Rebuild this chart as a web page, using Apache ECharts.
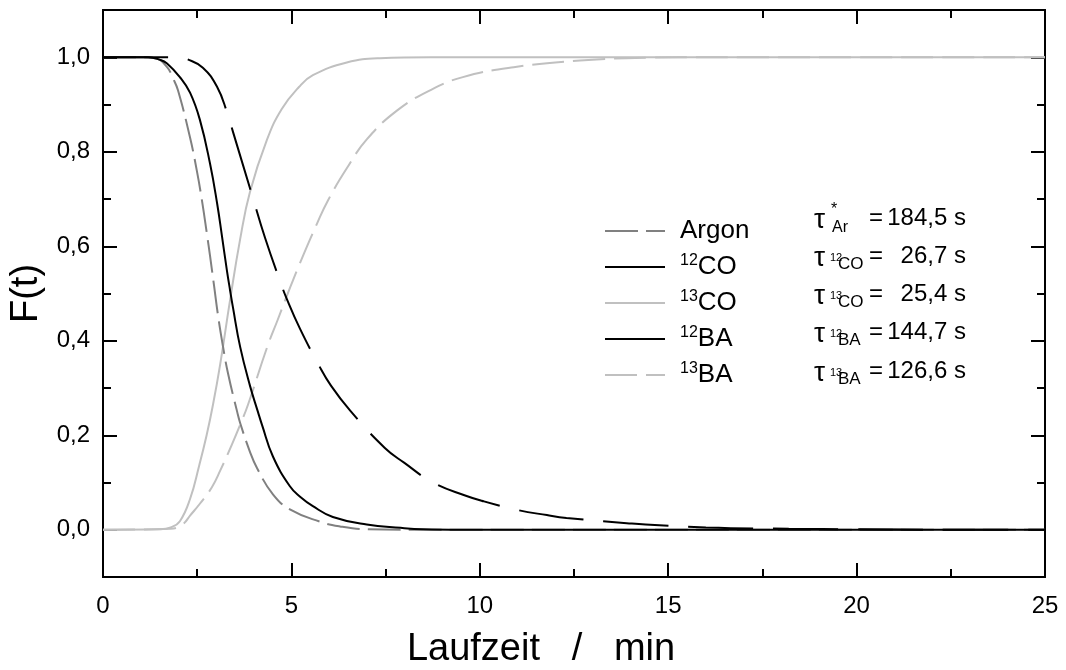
<!DOCTYPE html>
<html>
<head>
<meta charset="utf-8">
<script src="https://cdn.jsdelivr.net/npm/echarts@6/dist/echarts.min.js"></script>
<style>html,body{margin:0;padding:0;background:#fff}#c{width:1066px;height:670px}</style>
</head>
<body>
<div id="c"></div>
<script>
// ---- data ----
const seriesNames = ['Argon', '12CO', '13CO', '12BA', '13BA'];

const tArgon = [0, 1.0, 1.38, 1.7, 1.86, 1.99, 2.31, 2.49, 2.63, 2.76, 2.84, 2.95, 3.05, 3.18, 3.32, 3.56, 3.64, 3.9, 4.09, 4.51, 4.96, 5.76, 6.29, 7.0, 8.0, 25];
const fArgon = [1, 1.0, 0.998, 0.979, 0.955, 0.93, 0.83, 0.76, 0.695, 0.625, 0.58, 0.515, 0.455, 0.39, 0.33, 0.25, 0.226, 0.165, 0.13, 0.075, 0.043, 0.017, 0.007, 0.001, 0, 0];

const t12CO = [0, 1.2, 1.5, 1.7, 2.04, 2.31, 2.57, 2.84, 3.03, 3.16, 3.29, 3.37, 3.45, 3.64, 3.9, 4.11, 4.22, 4.51, 4.96, 5.23, 5.57, 6.1, 7.0, 7.9, 8.5, 9.5, 25];
const f12CO = [1, 1.0, 0.995, 0.987, 0.958, 0.925, 0.868, 0.775, 0.69, 0.62, 0.548, 0.508, 0.47, 0.387, 0.305, 0.25, 0.222, 0.155, 0.092, 0.07, 0.05, 0.027, 0.011, 0.004, 0.001, 0, 0];

const t13CO = [0, 1.5, 1.8, 2.04, 2.31, 2.55, 2.75, 2.92, 3.11, 3.37, 3.64, 3.9, 4.35, 4.74, 5.2, 5.57, 6.47, 7.35, 8.7, 25];
const f13CO = [0, 0.001, 0.005, 0.018, 0.065, 0.135, 0.2, 0.265, 0.35, 0.485, 0.615, 0.715, 0.825, 0.89, 0.937, 0.962, 0.989, 0.998, 1.0, 1];

const t12BA = [0, 2.0, 2.23, 2.65, 3.03, 3.29, 3.45, 3.95, 4.3, 4.7, 4.88, 5.23, 5.73, 6.05, 6.56, 7.48, 7.99, 8.76, 9.63, 10.11, 10.99, 11.78, 12.3, 13.9, 14.4, 16.0, 18.2, 20, 22, 25];
const f12BA = [1, 1.0, 0.996, 0.978, 0.937, 0.884, 0.842, 0.71, 0.618, 0.526, 0.488, 0.425, 0.348, 0.305, 0.252, 0.173, 0.142, 0.1, 0.072, 0.06, 0.042, 0.031, 0.025, 0.014, 0.011, 0.005, 0.002, 0.001, 0, 0];

const t13BA = [0, 1.8, 2.12, 2.31, 2.57, 2.89, 3.11, 3.42, 3.64, 3.85, 4.35, 4.64, 4.88, 5.23, 5.68, 5.97, 6.47, 7.0, 7.8, 8.68, 9.55, 10.9, 12.66, 14.5, 16, 25];
const f13BA = [0, 0.002, 0.012, 0.03, 0.055, 0.09, 0.125, 0.18, 0.222, 0.265, 0.385, 0.445, 0.495, 0.565, 0.648, 0.697, 0.765, 0.826, 0.887, 0.93, 0.958, 0.979, 0.993, 0.999, 1, 1];

const xTicks = [0, 5, 10, 15, 20, 25];
const yTickLabels = [0, 0.2, 0.4, 0.6, 0.8, 1.0];

const tauSymbols = ['Ar', '12CO', '13CO', '12BA', '13BA'];
const tauValues = ['184,5', '26,7', '25,4', '144,7', '126,6'];

// ---- chart ----
const FONT = "'Liberation Sans', Arial, sans-serif";
const zip = (a, b) => a.map((v, i) => [v, b[i]]);

function mkSeries(name, t, f, color, dash, z) {
  return {
    type: 'line', name: name, data: zip(t, f), symbol: 'none', showSymbol: false,
    smooth: 0.45, z: z,
    lineStyle: { color: color, width: 2, type: dash },
    itemStyle: { color: color }
  };
}

const axisLineStyle = { show: true, onZero: false, lineStyle: { color: '#000', width: 2 } };

const xBase = {
  type: 'value', min: 0, max: 25, interval: 5,
  axisLine: axisLineStyle,
  axisTick: { show: true, inside: true, length: 14, lineStyle: { color: '#000', width: 2 } },
  minorTick: { show: true, splitNumber: 2, length: 8, lineStyle: { color: '#000', width: 2 } },
  splitLine: { show: false }, minorSplitLine: { show: false }
};

function yMinor(pos) {
  return {
    type: 'value', position: pos, min: -0.1, max: 1.1, interval: 0.1,
    axisLine: axisLineStyle,
    axisTick: { show: true, inside: true, length: 8, lineStyle: { color: '#000', width: 2 } },
    axisLabel: { show: false }, splitLine: { show: false }
  };
}
function yMajor(pos, withLabels) {
  return {
    type: 'value', position: pos, min: -0.1, max: 1.1,
    axisLine: axisLineStyle,
    axisTick: { show: true, inside: true, length: 14, customValues: yTickLabels, lineStyle: { color: '#000', width: 2 } },
    axisLabel: withLabels ? {
      show: true, customValues: yTickLabels, margin: 13, color: '#000', fontSize: 24, fontFamily: FONT,
      formatter: v => v.toFixed(1).replace('.', ',')
    } : { show: false },
    splitLine: { show: false }
  };
}

const legendRich = {
  n: { fontSize: 26, fontFamily: FONT, color: '#000', lineHeight: 28 },
  s: { fontSize: 16, fontFamily: FONT, color: '#000', lineHeight: 28, verticalAlign: 'top' }
};

const graphics = [];
const rowY = [218, 256, 294, 332, 371];
tauSymbols.forEach((sym, i) => {
  const y = rowY[i];
  graphics.push({ type: 'text', x: 814, y: y + 2, style: { text: 'τ', font: '28px ' + FONT, fill: '#000', align: 'left', verticalAlign: 'middle' } });
  if (i === 0) {
    graphics.push({ type: 'text', x: 831, y: y - 8, style: { text: '*', font: '16px ' + FONT, fill: '#000', align: 'left', verticalAlign: 'middle' } });
    graphics.push({ type: 'text', x: 832, y: y + 10, style: { text: sym, font: '16px ' + FONT, fill: '#000', align: 'left', verticalAlign: 'middle' } });
  } else {
    graphics.push({ type: 'text', x: 830, y: y + 2, style: { text: sym.slice(0, 2), font: '11px ' + FONT, fill: '#000', align: 'left', verticalAlign: 'middle' } });
    graphics.push({ type: 'text', x: 838, y: y + 8, style: { text: sym.slice(2), font: '17px ' + FONT, fill: '#000', align: 'left', verticalAlign: 'middle' } });
  }
  graphics.push({ type: 'text', x: 869, y: y, style: { text: '=', font: '24px ' + FONT, fill: '#000', align: 'left', verticalAlign: 'middle' } });
  graphics.push({ type: 'text', x: 966, y: y, style: { text: tauValues[i] + ' s', font: '24px ' + FONT, fill: '#000', align: 'right', verticalAlign: 'middle' } });
});

const option = {
  animation: false,
  backgroundColor: '#fff',
  grid: { left: 103, right: 21, top: 10, bottom: 93, containLabel: false, outerBoundsMode: 'none' },
  xAxis: [
    Object.assign({}, xBase, {
      position: 'bottom',
      axisLabel: { show: true, margin: 17, color: '#000', fontSize: 24, fontFamily: FONT,
        customValues: xTicks, formatter: v => String(v) },
      name: 'Laufzeit   /   min', nameLocation: 'middle', nameGap: 54,
      nameTextStyle: { fontSize: 38, fontFamily: FONT, color: '#000', padding: [0, 66, 0, 0] }
    }),
    Object.assign({}, xBase, { position: 'top', axisLabel: { show: false } })
  ],
  yAxis: [
    yMinor('left'),
    Object.assign(yMajor('left', true), {
      name: 'F(t)', nameLocation: 'middle', nameGap: 50, nameRotate: 90,
      nameTextStyle: { fontSize: 38, fontFamily: FONT, color: '#000' }
    }),
    yMinor('right'),
    yMajor('right', false)
  ],
  legend: {
    orient: 'vertical', left: 599, top: 213,
    itemWidth: 60, itemHeight: 14, itemGap: 9,
    data: seriesNames,
    itemStyle: { color: 'rgba(0,0,0,0)', borderColor: 'rgba(0,0,0,0)', borderWidth: 0, opacity: 0 },
    formatter: name => name === 'Argon' ? '{n|Argon}' : '{s|' + name.slice(0, 2) + '}{n|' + name.slice(2) + '}',
    textStyle: { rich: legendRich, padding: [0, 0, 0, 10] }
  },
  graphic: graphics,
  series: [
    mkSeries('Argon', tArgon, fArgon, '#808080', [33, 8], 3),
    mkSeries('12CO', t12CO, f12CO, '#000000', 'solid', 4),
    mkSeries('13CO', t13CO, f13CO, '#c0c0c0', 'solid', 2),
    mkSeries('12BA', t12BA, f12BA, '#000000', [65, 20], 4),
    mkSeries('13BA', t13BA, f13BA, '#c0c0c0', [32, 9], 2)
  ]
};

const chart = echarts.init(document.getElementById('c'), null, { renderer: 'canvas' });
chart.setOption(option);
</script>
</body>
</html>
